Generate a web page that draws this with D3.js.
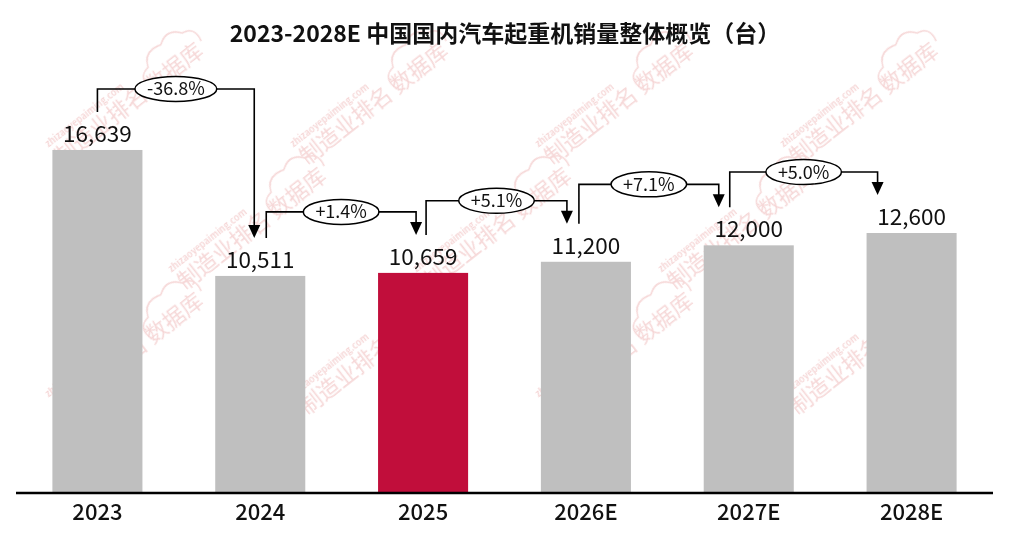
<!DOCTYPE html>
<html><head><meta charset="utf-8">
<script src="https://cdn.jsdelivr.net/npm/d3@7"></script>
<style>
html,body{margin:0;padding:0;background:#fff;}
svg{display:block;font-family:"Noto Sans CJK SC","Noto Sans",sans-serif;}
</style></head>
<body>
<svg id="chart" width="1024" height="544"></svg>
<script>
const title = "2023-2028E 中国国内汽车起重机销量整体概览（台）";
const categories = ["2023","2024","2025","2026E","2027E","2028E"];
const values = [16639,10511,10659,11200,12000,12600];
const highlight = ["2025"];
const changeLabels = ["-36.8%","+1.4%","+5.1%","+7.1%","+5.0%"];
const watermarkMain = "制造业排名 数据库";
const watermarkSub = "zhizaoyepaiming.com";

// annotation layout offsets (px, relative to bar centers)
const arrowStartOff = [0,6,3,-7,-19];
const arrowEndOff = [-6,-7,-19,-30,-34];

const svg = d3.select("#chart");
const W = 1024, H = 544;

// watermark layer (only instances fully inside the canvas)
const wm = svg.append("g").attr("opacity",0.2);
const ang = -38*Math.PI/180;
const wmPts = [];
for (let r=0;r<6;r++){
  for (let c=0;c<7;c++){
    wmPts.push([ -60 + c*245 + (r%2)*122, 40 + r*125 ]);
  }
}
wmPts.filter(p=>{
  // approx extent of rotated group: length ~190 along angle, ~30 perpendicular
  const ex = p[0] + 190*Math.cos(ang), ey = p[1] + 190*Math.sin(ang);
  return p[0] > 8 && ex < W-8 && ey > 30 && p[1] < H-8;
}).forEach(p=>{
  const g = wm.append("g").attr("transform",`translate(${p[0]},${p[1]}) rotate(-38)`);
  g.append("text").attr("x",0).attr("y",-22).attr("font-size",9).attr("font-weight","bold")
    .attr("fill","#d23c3c").text(watermarkSub);
  g.append("text").attr("x",0).attr("y",0).attr("font-size",22)
    .attr("fill","#d23c3c").text(watermarkMain);
  g.append("path").attr("d","M118,-4 q-6,-18 10,-20 q6,-16 24,-10 q14,-10 24,4 q14,2 10,18")
    .attr("fill","none").attr("stroke","#d23c3c").attr("stroke-width",1.5);
});

const x = d3.scaleBand().domain(categories).range([16,993]).paddingInner(0.447).paddingOuter(0.2235);
const y = d3.scaleLinear().domain([0,18000]).range([492,122]);

// title
svg.append("text").attr("x",505).attr("y",42).attr("text-anchor","middle")
  .attr("font-size",23).attr("font-weight","bold").attr("fill","#111").text(title);

// bars
svg.append("g").selectAll("rect").data(categories).join("rect")
  .attr("x",d=>x(d)).attr("width",x.bandwidth())
  .attr("y",(d,i)=>y(values[i])).attr("height",(d,i)=>y(0)-y(values[i]))
  .attr("fill",d=>highlight.includes(d)?"#c10e3b":"#bfbfbf");

// value labels
svg.append("g").selectAll("text").data(categories).join("text")
  .attr("x",d=>x(d)+x.bandwidth()/2).attr("y",(d,i)=>y(values[i])-8)
  .attr("text-anchor","middle").attr("font-size",22.5).attr("fill","#111")
  .text((d,i)=>d3.format(",")(values[i]));

// axis
const axis = d3.axisBottom(x).tickSize(0).tickPadding(11);
const ag = svg.append("g").attr("transform",`translate(0,${y(0)+1})`).call(axis);
ag.select(".domain").attr("stroke","#000").attr("stroke-width",2.5).attr("d","M16,0H993");
ag.selectAll("text").attr("font-size",22).attr("font-weight",500).attr("fill","#111")
  .attr("font-family","'Noto Sans CJK SC','Noto Sans',sans-serif");

// change arrows
const cx = d=>x(d)+x.bandwidth()/2;
const ann = svg.append("g");
changeLabels.forEach((lab,i)=>{
  const a = categories[i], b = categories[i+1];
  const topA = y(values[i]), topB = y(values[i+1]);
  const x0 = cx(a)+arrowStartOff[i], x1 = cx(b)+arrowEndOff[i];
  const yLevel = Math.min(topA,topB)-61;
  const y0 = topA-38, tip = topB-38;
  ann.append("path").attr("d",`M${x0},${y0}V${yLevel}H${x1}V${tip-10}`)
    .attr("fill","none").attr("stroke","#000").attr("stroke-width",1.6);
  ann.append("path").attr("d",`M${x1-6},${tip-13}L${x1+6},${tip-13}L${x1},${tip}Z`).attr("fill","#000");
  const mx = (x0+x1)/2;
  const t = ann.append("text").attr("x",mx).attr("y",yLevel+6.5).attr("text-anchor","middle")
    .attr("font-size",18).attr("fill","#111").text(lab);
  const w = t.node().getComputedTextLength();
  ann.insert("ellipse","text:last-child").attr("cx",mx).attr("cy",yLevel)
    .attr("rx",w/2+12).attr("ry",12.5).attr("fill","#fff").attr("stroke","#000").attr("stroke-width",1.5);
  t.raise();
});
</script>
</body></html>
